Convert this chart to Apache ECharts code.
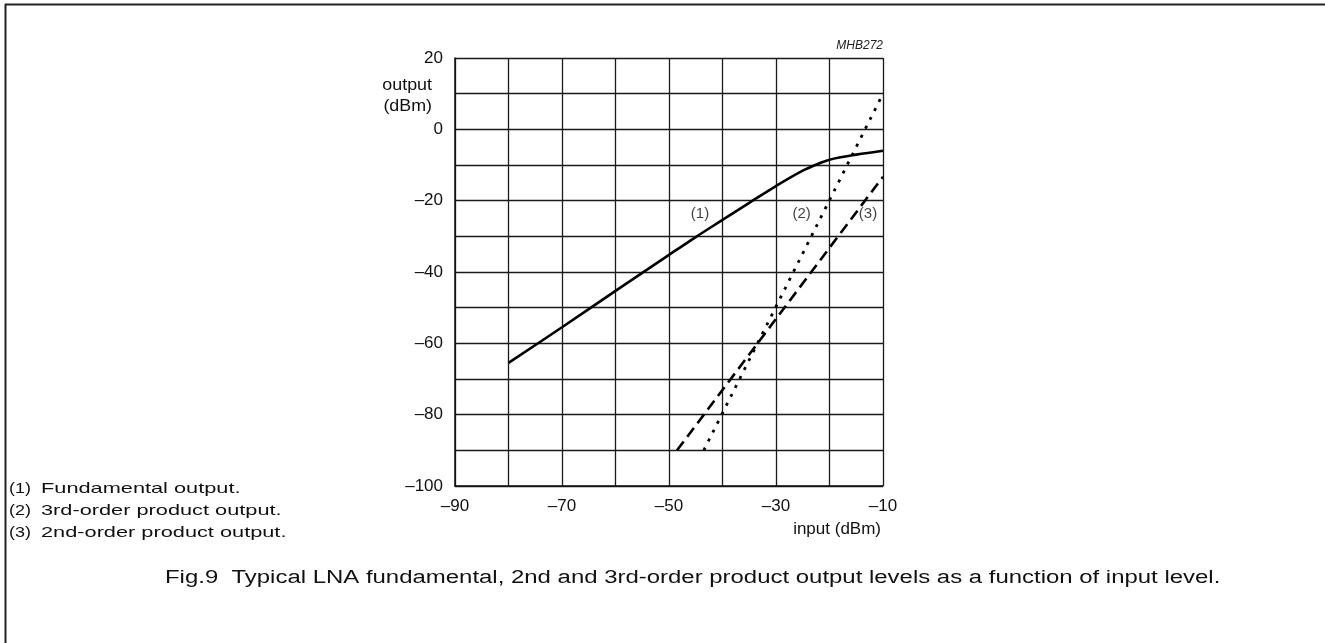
<!DOCTYPE html>
<html>
<head>
<meta charset="utf-8">
<script src="https://cdn.jsdelivr.net/npm/echarts@6/dist/echarts.min.js"></script>
<style>
  html, body { margin: 0; padding: 0; background: #fff; }
  #chart { width: 1325px; height: 643px; }
</style>
</head>
<body>
<div id="chart"></div>
<script>
// values (input dBm, output dBm)
const fundamental = [
  [-80, -65.5], [-70, -55.5], [-60, -45.3], [-50, -35.2], [-45, -30.2],
  [-40, -25.4], [-35, -20.6], [-30, -15.9], [-25, -11.6], [-22, -9.6],
  [-20, -8.5], [-15, -7.1], [-10, -6]
];
const thirdOrder = [[-43.5, -90], [-10, 10]];
const secondOrder = [[-48.5, -90], [-10, -13.3]];
const curveTags = [[-44.2, -23.6, '(1)'], [-25.2, -23.6, '(2)'], [-12.8, -23.6, '(3)']];
const legendLines = [
  ['(1)', 'Fundamental output.'],
  ['(2)', '3rd-order product output.'],
  ['(3)', '2nd-order product output.']
];
const caption = 'Fig.9  Typical LNA fundamental, 2nd and 3rd-order product output levels as a function of input level.';

const font = '"Liberation Sans", Arial, sans-serif';
const ink = '#111';
const minus = v => String(v).replace('-', '\u2013');

const chart = echarts.init(document.getElementById('chart'));

// stretched text, the scan is wider than it is tall
function wideText(x, y, text, size, sx, align) {
  return {
    type: 'text', x: x, y: y, scaleX: sx,
    style: { text: text, font: size + 'px ' + font, fill: ink,
      textAlign: align || 'left', textVerticalAlign: 'middle' }
  };
}

const legendGraphics = [];
legendLines.forEach(function (row, i) {
  legendGraphics.push(wideText(9, 489 + i * 22, row[0], 15, 1.2));
  legendGraphics.push(wideText(41, 489 + i * 22, row[1], 15, 1.45));
});

const option = {
  animation: false,
  grid: { left: 455, top: 58, width: 428, height: 428 },
  xAxis: {
    type: 'value', min: -90, max: -10, interval: 10,
    name: 'input (dBm)', nameLocation: 'end', nameGap: -2,
    nameTextStyle: { align: 'right', verticalAlign: 'top', padding: [35, 0, 0, 0],
      fontFamily: font, fontSize: 17, color: ink },
    axisLine: { onZero: false, lineStyle: { color: ink, width: 1.5 } },
    axisTick: { show: false },
    axisLabel: {
      margin: 12, fontFamily: font, fontSize: 17, color: ink,
      formatter: v => ((v + 90) % 20 === 0 ? minus(v) : '')
    },
    splitLine: { lineStyle: { color: '#1a1a1a', width: 1.3 } }
  },
  yAxis: {
    type: 'value', min: -100, max: 20, interval: 10,
    axisLine: { onZero: false, lineStyle: { color: ink, width: 1.5 } },
    axisTick: { show: false },
    axisLabel: {
      margin: 12, fontFamily: font, fontSize: 17, color: ink,
      formatter: v => (v % 20 === 0 ? minus(v) : '')
    },
    splitLine: { lineStyle: { color: '#1a1a1a', width: 1.3 } }
  },
  series: [
    {
      name: 'Fundamental output', type: 'line', data: fundamental, smooth: 0.35,
      showSymbol: false, lineStyle: { color: '#000', width: 2.6 }
    },
    {
      name: '3rd-order product output', type: 'line', data: thirdOrder,
      showSymbol: false, lineStyle: { color: '#000', width: 2.8, type: [3, 7] }
    },
    {
      name: '2nd-order product output', type: 'line', data: secondOrder,
      showSymbol: false, lineStyle: { color: '#000', width: 2.6, type: [11, 6] }
    },
    {
      type: 'scatter', symbolSize: 0, silent: true,
      data: curveTags.map(t => ({ value: [t[0], t[1]], name: t[2] })),
      label: { show: true, position: 'inside', formatter: p => p.name,
        fontFamily: font, fontSize: 15, color: ink }
    }
  ],
  graphic: [
    { type: 'line', shape: { x1: 5, y1: 4.5, x2: 1325, y2: 4.5 }, style: { stroke: '#222', lineWidth: 2 } },
    { type: 'line', shape: { x1: 5.5, y1: 4, x2: 5.5, y2: 643 }, style: { stroke: '#222', lineWidth: 2 } },
    {
      type: 'text', x: 883, y: 46,
      style: { text: 'MHB272', font: 'italic 12px ' + font, fill: '#222',
        textAlign: 'right', textVerticalAlign: 'middle' }
    },
    wideText(432, 85, 'output', 17, 1.05, 'right'),
    wideText(432, 106, '(dBm)', 17, 1.05, 'right'),
    wideText(165, 578, caption, 18, 1.33)
  ].concat(legendGraphics)
};

chart.setOption(option);
</script>
</body>
</html>
